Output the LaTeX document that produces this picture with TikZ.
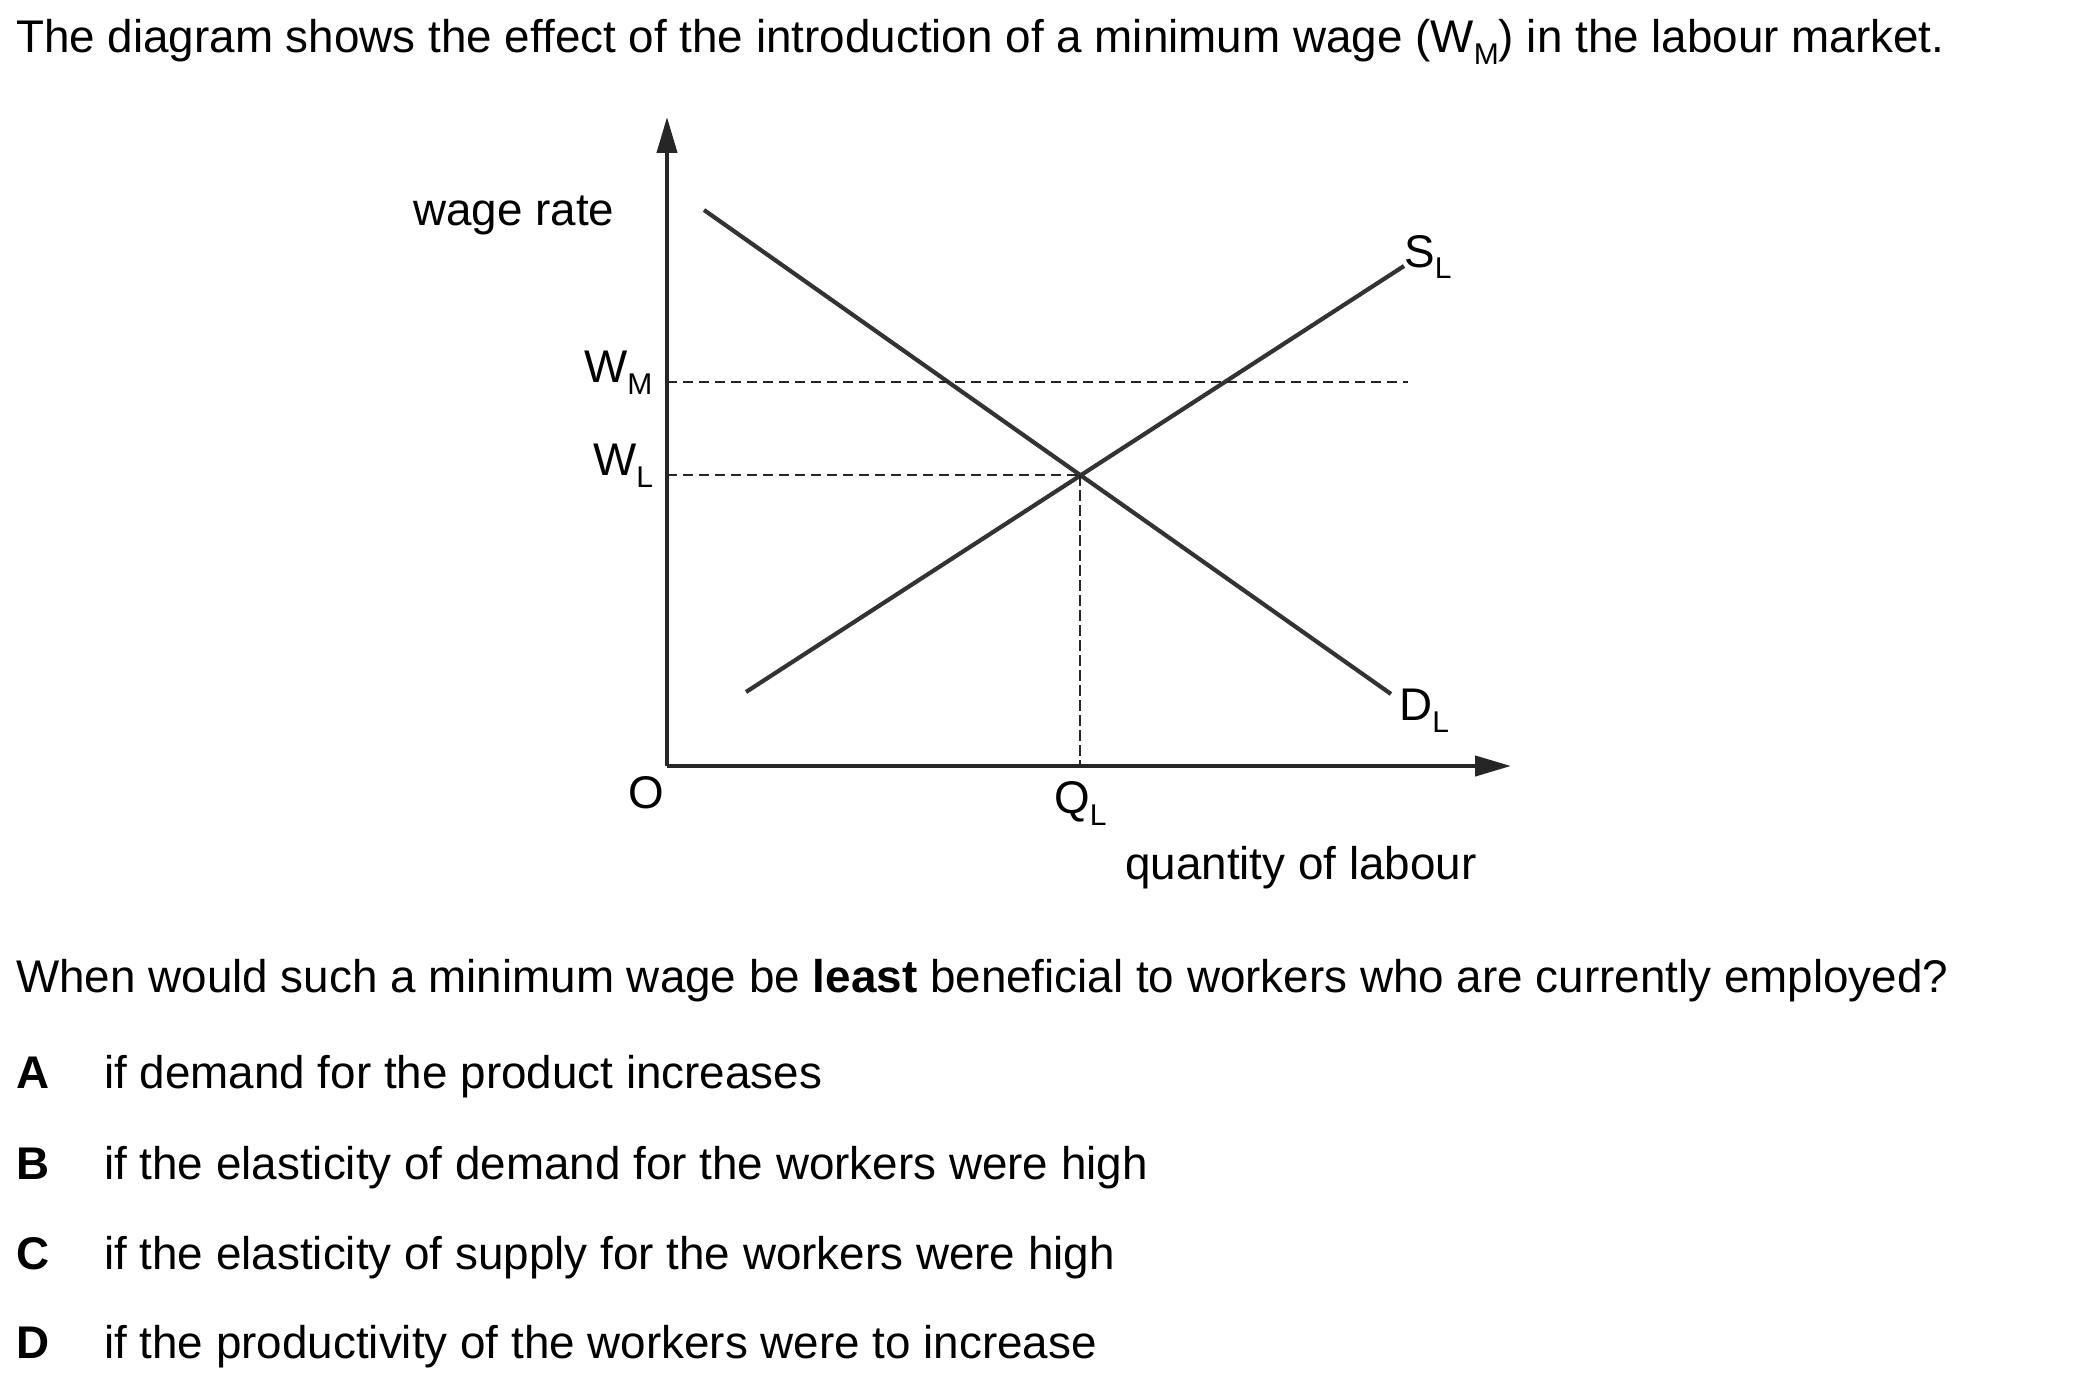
\documentclass[tikz,border=0pt]{standalone}
\usepackage{fontspec}
\setmainfont{Liberation Sans}
\usetikzlibrary{arrows.meta}
\newcommand{\lowsub}[1]{\raisebox{-12pt}{\fontsize{30}{30}\selectfont #1}}
\begin{document}
\begin{tikzpicture}[x=1pt,y=-1pt,
  txt/.style={anchor=base west,inner sep=0pt,font=\fontsize{45.8}{54}\selectfont},
  axis/.style={line width=4.2pt,draw=black!85,-{Triangle[length=36pt,width=20pt]}},
  curve/.style={line width=4.2pt,draw=black!80},
  guide/.style={line width=2.6pt,draw=black!85,dash pattern=on 10pt off 6pt},
  vguide/.style={line width=2pt,draw=black!85,dash pattern=on 11pt off 4pt}]
\useasboundingbox (0,0) rectangle (2100,1380);
% title
\node[txt] (title) at (16,53) {The diagram shows the effect of the introduction of a minimum wage (W\lowsub{M}) in the labour market.};
% axes
\coordinate (O) at (667,766);
\coordinate (ytop) at (667,117);
\coordinate (xend) at (1511,766);
\draw[axis] (O) -- (ytop);
\draw[axis] (O) -- (xend);
% curves
\coordinate (d1) at (704,210);
\coordinate (d2) at (1391,694);
\coordinate (s1) at (746,692);
\coordinate (s2) at (1404,266);
\coordinate (E) at (1080,475);
\draw[curve] (d1) -- (d2);
\draw[curve] (s1) -- (s2);
% guides
\coordinate (wm0) at (667,382);
\coordinate (wm1) at (1408,382);
\coordinate (wl0) at (667,475);
\coordinate (q0) at (1080,766);
\draw[guide] (wm0) -- (wm1);
\draw[guide] (wl0) -- (E);
\draw[vguide] (E) -- (q0);
% labels
\node[txt] (wr) at (413,226) {wage rate};
\node[txt] (wmlab) at (584,382) {W\lowsub{M}};
\node[txt] (wllab) at (593,475) {W\lowsub{L}};
\node[txt] (slab) at (1404,267) {S\lowsub{L}};
\node[txt] (dlab) at (1399,720) {D\lowsub{L}};
\node[txt] (olab) at (628,808) {O};
\node[txt] (qlab) at (1054,813) {Q\lowsub{L}};
\node[txt] (qty) at (1125,879) {quantity of labour};
% question
\node[txt] (q) at (16,992) {When would such a minimum wage be \textbf{least} beneficial to workers who are currently employed?};
\node[txt] (la) at (16,1088) {\textbf{A}};
\node[txt] (ta) at (104,1088) {if demand for the product increases};
\node[txt] (lb) at (16,1179) {\textbf{B}};
\node[txt] (tb) at (104,1179) {if the elasticity of demand for the workers were high};
\node[txt] (lc) at (16,1269) {\textbf{C}};
\node[txt] (tc) at (104,1269) {if the elasticity of supply for the workers were high};
\node[txt] (ld) at (16,1358) {\textbf{D}};
\node[txt] (td) at (104,1358) {if the productivity of the workers were to increase};
\end{tikzpicture}
\end{document}
